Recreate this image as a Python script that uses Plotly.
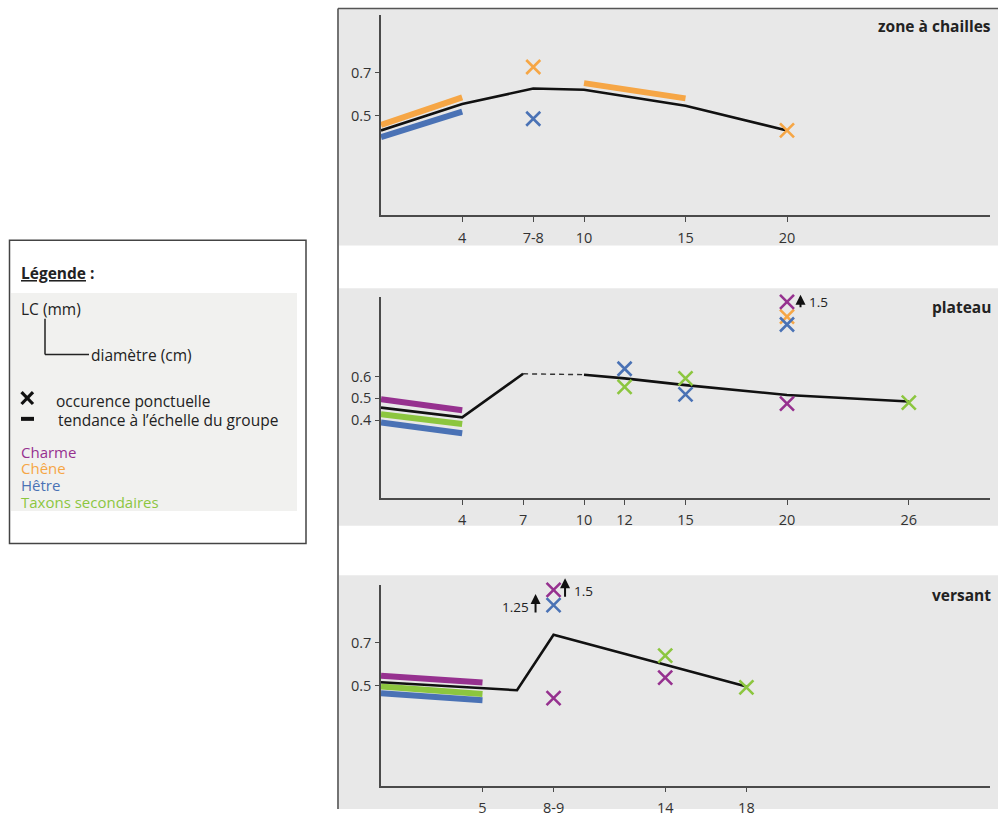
import plotly.graph_objects as go

# ---------------- colours ----------------
C_CHARME = "#96318F"
C_CHENE = "#F6A645"
C_HETRE = "#4A72B5"
C_TAXONS = "#8CC63F"
C_TREND = "#111111"

# ---------------- data : zone à chailles ----------------
zc_xticks = [4, 7.5, 10, 15, 20]
zc_xlabels = ["4", "7-8", "10", "15", "20"]
zc_yticks = [0.5, 0.7]
zc_group_x = [0, 4, 7.5, 10, 15, 20]
zc_group_y = [0.431, 0.554, 0.626, 0.620, 0.546, 0.431]
zc_chene_x = [0, 4, None, 10, 15]
zc_chene_y = [0.457, 0.585, None, 0.651, 0.580]
zc_hetre_x = [0, 4]
zc_hetre_y = [0.400, 0.518]
zc_pts_x = [7.5, 7.5, 20]
zc_pts_y = [0.726, 0.485, 0.431]
zc_pts_taxon = ["Chêne", "Hêtre", "Chêne"]

# ---------------- data : plateau ----------------
pl_xticks = [4, 7, 10, 12, 15, 20, 26]
pl_xlabels = ["4", "7", "10", "12", "15", "20", "26"]
pl_yticks = [0.4, 0.5, 0.6]
pl_group_x = [0, 4, 7]
pl_group_y = [0.457, 0.412, 0.612]
pl_gap_x = [7, 10]
pl_gap_y = [0.612, 0.608]
pl_group2_x = [10, 12, 15, 20, 26]
pl_group2_y = [0.608, 0.591, 0.560, 0.515, 0.485]
pl_charme_x = [0, 4]
pl_charme_y = [0.495, 0.445]
pl_taxons_x = [0, 4]
pl_taxons_y = [0.427, 0.382]
pl_hetre_x = [0, 4]
pl_hetre_y = [0.389, 0.339]
pl_pts_x = [12, 12, 15, 15, 20, 26, 20, 20, 20]
pl_pts_y = [0.635, 0.552, 0.591, 0.518, 0.475, 0.480, 0.874, 0.838, 0.942]
pl_pts_taxon = ["Hêtre", "Taxons", "Taxons", "Hêtre", "Charme", "Taxons",
                "Chêne", "Hêtre", "Charme"]

# ---------------- data : versant ----------------
ve_xticks = [5, 8.5, 14, 18]
ve_xlabels = ["5", "8-9", "14", "18"]
ve_yticks = [0.5, 0.7]
ve_group_x = [0, 6.7, 8.5, 14, 18]
ve_group_y = [0.515, 0.478, 0.737, 0.595, 0.495]
ve_charme_x = [0, 5]
ve_charme_y = [0.546, 0.514]
ve_taxons_x = [0, 5]
ve_taxons_y = [0.495, 0.460]
ve_hetre_x = [0, 5]
ve_hetre_y = [0.464, 0.431]
ve_pts_x = [8.5, 8.5, 8.5, 14, 14, 18]
ve_pts_y = [0.946, 0.875, 0.441, 0.639, 0.537, 0.491]
ve_pts_taxon = ["Charme", "Hêtre", "Charme", "Taxons", "Charme", "Taxons"]

TAXON_COLOR = {"Charme": C_CHARME, "Chêne": C_CHENE, "Hêtre": C_HETRE, "Taxons": C_TAXONS}

W, H = 998, 817
FONT = "Open Sans"


def px(x):
    return x / W


def py(y):
    return 1 - y / H


fig = go.Figure()


def add_seg(xs, ys, color, axis, width=6, dash=None):
    fig.add_trace(go.Scatter(x=xs, y=ys, mode="lines", xaxis="x" + axis, yaxis="y" + axis,
                             line=dict(color=color, width=width, dash=dash),
                             showlegend=False, hoverinfo="skip", connectgaps=False))


def add_pts(xs, ys, taxa, axis):
    for x, y, t in zip(xs, ys, taxa):
        fig.add_trace(go.Scatter(x=[x], y=[y], mode="markers", xaxis="x" + axis, yaxis="y" + axis,
                                 marker=dict(symbol="x-thin", size=14,
                                             line=dict(width=2.6, color=TAXON_COLOR[t])),
                                 cliponaxis=False, showlegend=False, hoverinfo="skip"))


# panel 1 (top)
add_seg(zc_chene_x, zc_chene_y, C_CHENE, "")
add_seg(zc_hetre_x, zc_hetre_y, C_HETRE, "")
add_seg(zc_group_x, zc_group_y, C_TREND, "", width=2.6)
add_pts(zc_pts_x, zc_pts_y, zc_pts_taxon, "")

# panel 2 (middle)
add_seg(pl_charme_x, pl_charme_y, C_CHARME, "2")
add_seg(pl_taxons_x, pl_taxons_y, C_TAXONS, "2")
add_seg(pl_hetre_x, pl_hetre_y, C_HETRE, "2")
add_seg(pl_group_x, pl_group_y, C_TREND, "2", width=2.6)
add_seg(pl_gap_x, pl_gap_y, "#333333", "2", width=1.4, dash="5px,4px")
add_seg(pl_group2_x, pl_group2_y, C_TREND, "2", width=2.6)
add_pts(pl_pts_x, pl_pts_y, pl_pts_taxon, "2")

# panel 3 (bottom)
add_seg(ve_charme_x, ve_charme_y, C_CHARME, "3")
add_seg(ve_taxons_x, ve_taxons_y, C_TAXONS, "3")
add_seg(ve_hetre_x, ve_hetre_y, C_HETRE, "3")
add_seg(ve_group_x, ve_group_y, C_TREND, "3", width=2.6)
add_pts(ve_pts_x, ve_pts_y, ve_pts_taxon, "3")

# ---------------- axes ----------------
xdom = [px(381), px(990)]
panels = [
    ("", zc_xticks, zc_xlabels, zc_yticks, (15, 217.5), [0.0355, 0.9687]),
    ("2", pl_xticks, pl_xlabels, pl_yticks, (300, 503), [0.042, 0.964]),
    ("3", ve_xticks, ve_xlabels, ve_yticks, (590.7, 793.3), [0.0335, 0.969]),
]
axis_common = dict(showline=True, linecolor="#4a4a4a", linewidth=1.6, showgrid=False,
                   zeroline=False, ticks="outside", tickcolor="#4a4a4a", tickwidth=1.3,
                   tickfont=dict(family=FONT, size=14.5, color="#333333"), fixedrange=True)
layout_axes = {}
for suf, xt, xl, yt, (ytop, ybot), yr in panels:
    layout_axes["xaxis" + suf] = dict(axis_common, domain=xdom, range=[0, 30], tickvals=xt,
                                      ticktext=xl, ticklen=5, ticklabelstandoff=3,
                                      anchor="y" + suf)
    layout_axes["yaxis" + suf] = dict(axis_common, domain=[py(ybot), py(ytop)], range=yr,
                                      tickvals=yt, ticktext=[f"{v:.1f}" for v in yt],
                                      ticklen=4, ticklabelstandoff=1, anchor="x" + suf)

# ---------------- shapes ----------------
shapes = []
# gray panel backgrounds
for (x0, y0, x1, y1) in [(339, 9, 998, 248), (339, 291, 998, 531), (339, 581, 998, 817)]:
    shapes.append(dict(type="rect", xref="paper", yref="paper", x0=px(x0), x1=px(x1),
                       y0=py(y1), y1=py(y0), fillcolor="#E8E8E8", line=dict(width=0),
                       layer="below"))
# outer frame of the chart column
shapes.append(dict(type="line", xref="paper", yref="paper", x0=px(338), x1=px(338),
                   y0=py(817), y1=py(8.5), line=dict(color="#444", width=1.5)))
shapes.append(dict(type="line", xref="paper", yref="paper", x0=px(338), x1=px(998),
                   y0=py(8.5), y1=py(8.5), line=dict(color="#555", width=1.5)))
# legend box
shapes.append(dict(type="rect", xref="paper", yref="paper", x0=px(9.5), x1=px(306),
                   y0=py(549), y1=py(242.5), fillcolor="white",
                   line=dict(color="#444", width=1.5), layer="below"))
shapes.append(dict(type="rect", xref="paper", yref="paper", x0=px(11), x1=px(297),
                   y0=py(516), y1=py(296), fillcolor="#F1F1EF", line=dict(width=0),
                   layer="below"))
# L-shaped axis sketch
shapes.append(dict(type="line", xref="paper", yref="paper", x0=px(45), x1=px(45),
                   y0=py(358), y1=py(322), line=dict(color="#222", width=1.5)))
shapes.append(dict(type="line", xref="paper", yref="paper", x0=px(45), x1=px(89),
                   y0=py(358), y1=py(358), line=dict(color="#222", width=1.5)))
# legend cross and dash
shapes.append(dict(type="line", xref="paper", yref="paper", x0=px(21.5), x1=px(33),
                   y0=py(396), y1=py(408), line=dict(color="#111", width=3.2)))
shapes.append(dict(type="line", xref="paper", yref="paper", x0=px(21.5), x1=px(33),
                   y0=py(408), y1=py(396), line=dict(color="#111", width=3.2)))
shapes.append(dict(type="line", xref="paper", yref="paper", x0=px(21), x1=px(34),
                   y0=py(423), y1=py(423), line=dict(color="#111", width=4)))

# ---------------- annotations ----------------
ann = []


def txt(x, y, text, size=15, color="#222", anchor="left", bold=False):
    ann.append(dict(xref="paper", yref="paper", x=px(x), y=py(y), text=f"<b>{text}</b>" if bold else text,
                    showarrow=False, xanchor=anchor, yanchor="middle",
                    font=dict(family=FONT, size=size, color=color)))


txt(993, 26, "zone à chailles", size=15.5, bold=True, anchor="right")
txt(993, 310, "plateau", size=15.5, bold=True, anchor="right")
txt(993, 601, "versant", size=15.5, bold=True, anchor="right")

txt(19, 276, "<u>Légende</u> :", size=15.5, bold=True)
txt(19, 312, "LC (mm)", size=15.5)
txt(89, 359, "diamètre (cm)", size=15.5)
txt(54, 405, "occurence ponctuelle", size=15.5)
txt(56, 424, "tendance à l’échelle du groupe", size=15.5)
txt(19, 456, "Charme", size=15, color=C_CHARME)
txt(19, 473, "Chêne", size=15, color=C_CHENE)
txt(19, 490, "Hêtre", size=15, color=C_HETRE)
txt(19, 507, "Taxons secondaires", size=15, color=C_TAXONS)


def up_arrow(x, y, axis, xshift, yshift, length):
    ann.append(dict(xref="x" + axis, yref="y" + axis, x=x, y=y, text="", showarrow=True,
                    ax=0, ay=length, arrowhead=2, arrowsize=1, arrowwidth=2,
                    arrowcolor="#111", xshift=xshift, yshift=yshift))


def off_label(x, y, axis, xshift, yshift, text):
    ann.append(dict(xref="x" + axis, yref="y" + axis, x=x, y=y, text=text, showarrow=False,
                    xshift=xshift, yshift=yshift,
                    font=dict(family=FONT, size=13.5, color="#222")))


# off-scale values (actual LC above the frame)
up_arrow(pl_pts_x[8], pl_pts_y[8], "2", 13.5, 7, 14)
off_label(pl_pts_x[8], pl_pts_y[8], "2", 31, 0, "1.5")
up_arrow(ve_pts_x[0], ve_pts_y[0], "3", 11.5, 11.5, 20)
off_label(ve_pts_x[0], ve_pts_y[0], "3", 30, -1, "1.5")
up_arrow(ve_pts_x[1], ve_pts_y[1], "3", -18, 11, 20)
off_label(ve_pts_x[1], ve_pts_y[1], "3", -38, -2, "1.25")

fig.update_layout(width=W, height=H, margin=dict(l=0, r=0, t=0, b=0),
                  paper_bgcolor="white", plot_bgcolor="rgba(0,0,0,0)",
                  shapes=shapes, annotations=ann, showlegend=False, **layout_axes)

fig.write_html("out.html", config={"displayModeBar": False},
               post_script="document.body.style.margin='0';")
